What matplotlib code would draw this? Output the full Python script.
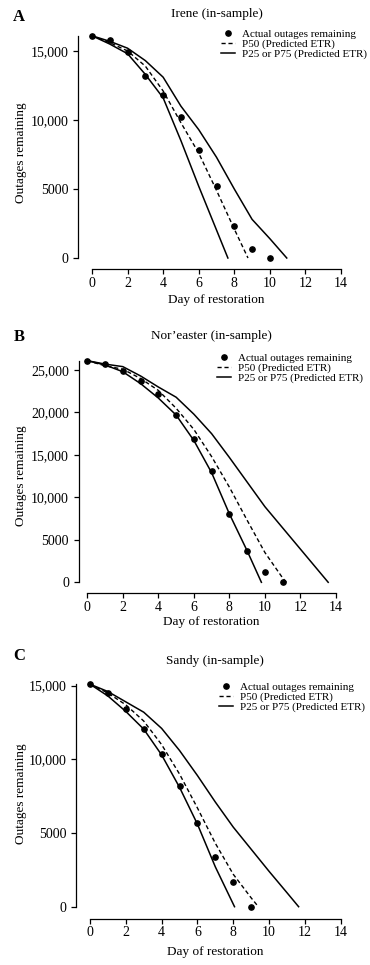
import numpy as np
import matplotlib
matplotlib.use("Agg")
import matplotlib.pyplot as plt

plt.rcParams['font.family'] = ['Liberation Serif', 'DejaVu Serif']

# ---- data ----
# Irene
irene_days = [0, 1, 2, 3, 4, 5, 6, 7, 8, 9, 10]
irene_actual = [16100, 15800, 14900, 13200, 11800, 10200, 7850, 5200, 2300, 650, 0]
irene_p50_days = [0, 1, 2, 3, 4, 5, 6, 7, 8, 8.77]
irene_p50 = [16100, 15600, 15000, 13900, 12100, 9800, 7600, 4900, 2100, 0]
irene_p25_days = [0, 1, 2, 3, 4, 5, 6, 7.64]
irene_p25 = [16100, 15500, 14800, 13300, 11600, 8500, 5200, 0]
irene_p75_days = [0, 1, 2, 3, 4, 5, 6, 7, 8, 9, 10, 10.95]
irene_p75 = [16100, 15700, 15200, 14300, 13100, 11000, 9300, 7300, 5000, 2800, 1400, 0]

# Nor'easter
nor_days = [0, 1, 2, 3, 4, 5, 6, 7, 8, 9, 10, 11]
nor_actual = [26100, 25700, 24900, 23700, 22200, 19700, 16900, 13100, 8050, 3700, 1200, 0]
nor_p50_days = [0, 1, 2, 3, 4, 5, 6, 7, 8, 9, 10, 11, 11.2]
nor_p50 = [26100, 25500, 25100, 24000, 22600, 20500, 18000, 14800, 11200, 7300, 3500, 500, 0]
nor_p25_days = [0, 1, 2, 3, 4, 5, 6, 7, 8, 9, 9.8]
nor_p25 = [26100, 25600, 24800, 23400, 21700, 19700, 16700, 12900, 8050, 3700, 0]
nor_p75_days = [0, 1, 2, 3, 4, 5, 6, 7, 8, 9, 10, 11, 12, 13, 13.56]
nor_p75 = [26100, 25700, 25400, 24300, 23000, 21800, 19800, 17500, 14700, 11800, 8900, 6400, 3900, 1400, 0]

# Sandy
sandy_days = [0, 1, 2, 3, 4, 5, 6, 7, 8, 9]
sandy_actual = [15100, 14500, 13450, 12050, 10350, 8200, 5700, 3400, 1700, 0]
sandy_p50_days = [0, 1, 2, 3, 4, 5, 6, 7, 8, 9, 9.4]
sandy_p50 = [15100, 14500, 13700, 12600, 11000, 9000, 6700, 4300, 2200, 600, 0]
sandy_p25_days = [0, 1, 2, 3, 4, 5, 6, 7, 8.07]
sandy_p25 = [15100, 14300, 13250, 12050, 10300, 8100, 5600, 2700, 0]
sandy_p75_days = [0, 1, 2, 3, 4, 5, 6, 7, 8, 9, 10, 11, 11.65]
sandy_p75 = [15100, 14600, 13900, 13200, 12100, 10600, 8900, 7100, 5400, 3900, 2400, 950, 0]

xticks = [0, 2, 4, 6, 8, 10, 12, 14]

W, H = 370, 965
fig = plt.figure(figsize=(W / 100, H / 100), dpi=100)

def px(x, y):
    return x / W, 1 - y / H

# pixel placement of each panel
panels = [
    dict(letter='A', title='Irene (in-sample)', x0=92, x14=341, y0=258, ytop=34.4, ymax=16200,
         yoff=10, xoff=8, yticks=[0, 5000, 10000, 15000], ylab=['0', '5000', '10,000', '15,000'],
         days=irene_days, act=irene_actual, p50d=irene_p50_days, p50=irene_p50,
         p25d=irene_p25_days, p25=irene_p25, p75d=irene_p75_days, p75=irene_p75,
         title_y=14, letter_y=17, leg_x=221, leg_y=29, ylab_y=153, xlab_y=294),
    dict(letter='B', title='Nor\u2019easter (in-sample)', x0=87.3, x14=336, y0=582.3, ytop=357.3, ymax=26500,
         yoff=6, xoff=8, yticks=[0, 5000, 10000, 15000, 20000, 25000],
         ylab=['0', '5000', '10,000', '15,000', '20,000', '25,000'],
         days=nor_days, act=nor_actual, p50d=nor_p50_days, p50=nor_p50,
         p25d=nor_p25_days, p25=nor_p25, p75d=nor_p75_days, p75=nor_p75,
         title_y=335.7, letter_y=337, leg_x=217, leg_y=353, ylab_y=475.5, xlab_y=615.7),
    dict(letter='C', title='Sandy (in-sample)', x0=90, x14=340.7, y0=906.7, ytop=678.3, ymax=15500,
         yoff=10, xoff=8.5, yticks=[0, 5000, 10000, 15000], ylab=['0', '5000', '10,000', '15,000'],
         days=sandy_days, act=sandy_actual, p50d=sandy_p50_days, p50=sandy_p50,
         p25d=sandy_p25_days, p25=sandy_p25, p75d=sandy_p75_days, p75=sandy_p75,
         title_y=660.7, letter_y=656, leg_x=219, leg_y=682, ylab_y=794, xlab_y=945.7),
]

for p in panels:
    left, bottom = p['x0'] / W, 1 - p['y0'] / H
    width = (p['x14'] - p['x0']) / W
    height = (p['y0'] - p['ytop']) / H
    ax = fig.add_axes([left, bottom, width, height])

    ax.plot(p['days'], p['act'], 'o', color='black', markersize=3.8, clip_on=False,
            label='Actual outages remaining', zorder=3)
    ax.plot(p['p50d'], p['p50'], color='black', linestyle=(0, (3, 2)), linewidth=1.0,
            clip_on=False, label='P50 (Predicted ETR)')
    ax.plot(p['p25d'], p['p25'], color='black', linewidth=1.1, clip_on=False,
            label='P25 or P75 (Predicted ETR)')
    ax.plot(p['p75d'], p['p75'], color='black', linewidth=1.1, clip_on=False)

    ax.set_xlim(0, 14)
    ax.set_ylim(0, p['ymax'])
    ax.set_xticks(xticks)
    ax.set_yticks(p['yticks'])
    ax.set_yticklabels(p['ylab'])

    for s in ['top', 'right']:
        ax.spines[s].set_visible(False)
    ax.spines['left'].set_position(('outward', p['yoff']))
    ax.spines['bottom'].set_position(('outward', p['xoff']))
    ax.spines['left'].set_bounds(0, p['act'][0])
    ax.spines['bottom'].set_bounds(0, 14)
    for s in ['left', 'bottom']:
        ax.spines[s].set_linewidth(0.9)

    ax.tick_params(axis='both', direction='out', length=3.6, width=0.9, labelsize=10)
    ax.tick_params(axis='y', pad=3.5)
    ax.tick_params(axis='x', pad=2)

    ax.set_ylabel('Outages remaining', fontsize=9.5)
    ax.yaxis.set_label_coords((27 - p['x0']) / (p['x14'] - p['x0']),
                              (p['y0'] - p['ylab_y']) / (p['y0'] - p['ytop']))
    ax.set_xlabel('Day of restoration', fontsize=9.5)
    ax.xaxis.set_label_coords(0.5, (p['y0'] - p['xlab_y']) / (p['y0'] - p['ytop']))

    tx, ty = px((p['x0'] + p['x14']) / 2, p['title_y'])
    fig.text(tx, ty, p['title'], ha='center', va='center', fontsize=9.5)
    lx, ly = px(19, p['letter_y'])
    fig.text(lx, ly, p['letter'], ha='center', va='center', fontsize=12, fontweight='bold')

    bx, by = px(p['leg_x'], p['leg_y'])
    ax.legend(loc='upper left', bbox_to_anchor=(bx, by), bbox_transform=fig.transFigure,
              frameon=False, fontsize=8, borderpad=0, borderaxespad=0, labelspacing=0,
              handlelength=1.3, handletextpad=0.6, numpoints=1)

fig.savefig('out.png', dpi=100)
